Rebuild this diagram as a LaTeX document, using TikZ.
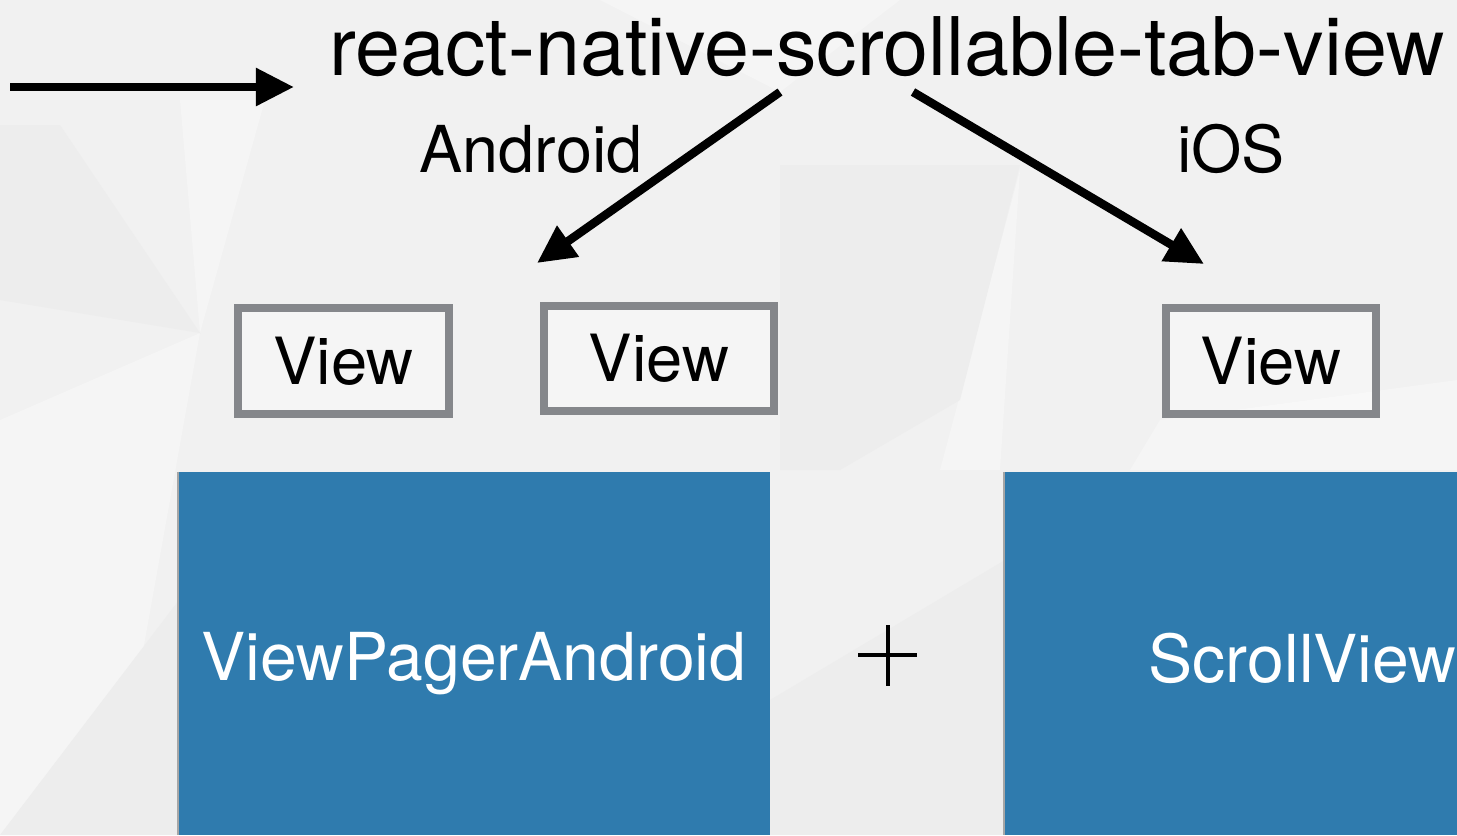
\documentclass[tikz,border=0pt]{standalone}
\usepackage{fontspec}
\setmainfont{TeX Gyre Heros}
\usetikzlibrary{arrows.meta}
\definecolor{bgc}{HTML}{F1F1F1}
\definecolor{facetlight}{HTML}{F5F5F5}
\definecolor{facetdark}{HTML}{EDEDED}
\definecolor{boxgray}{HTML}{85878B}
\definecolor{paneblue}{HTML}{2F7BAE}
\tikzset{
  arrowline/.style={line width=0.085cm, -{Triangle[length=0.38cm,width=0.36cm]}},
  viewbox/.style={draw=boxgray, line width=0.085cm, fill=white, fill opacity=0.3, text opacity=1,
    minimum width=2.11cm, minimum height=1.06cm, inner sep=0pt,
    font=\fontsize{18.5}{22}\selectfont},
  label/.style={inner sep=0pt, font=\fontsize{18.4}{22}\selectfont},
  pane/.style={fill=paneblue, draw=none},
  panetext/.style={inner sep=0pt, text=white, font=\fontsize{18.8}{22}\selectfont},
}
\begin{document}
\begin{tikzpicture}[x=0.01cm, y=-0.01cm]
\useasboundingbox (0,0) rectangle (1457,835);
% background
\fill[bgc] (0,0) rectangle (1457,835);
\fill[facetlight] (200,333) -- (180,100) -- (265,100) -- cycle;
\fill[facetlight] (200,333) -- (0,420) -- (0,835) -- (110,835) -- cycle;
\fill[facetdark] (200,333) -- (0,200) -- (0,300) -- cycle;
\fill[facetdark] (200,333) -- (60,125) -- (0,125) -- (0,200) -- cycle;
\fill[facetlight] (1020,170) -- (1000,470) -- (940,470) -- cycle;
\fill[facetdark] (780,165) -- (1020,165) -- (960,400) -- (840,470) -- (780,470) -- cycle;
\fill[facetlight] (600,0) -- (900,0) -- (780,92) -- cycle;
\fill[facetlight] (1160,420) -- (1457,380) -- (1457,470) -- (1130,470) -- cycle;
\fill[facetdark] (0,835) -- (179,600) -- (179,835) -- cycle;
\fill[facetdark] (770,700) -- (1005,560) -- (1005,835) -- (770,835) -- cycle;

% title and entry arrow
\node[anchor=base, inner sep=0pt, font=\fontsize{23}{27}\selectfont] (title) at (887,75) {react-native-scrollable-tab-view};
\coordinate (inS) at (10,87);
\coordinate (inE) at (294,87);
\draw[arrowline] (inS) -- (inE);

% platform labels
\node[label, anchor=base] (android) at (531,172) {Android};
\node[label, anchor=base] (ios) at (1231,172) {iOS};

% branch arrows
\coordinate (aS) at (780,92);
\coordinate (aE) at (537,263);
\coordinate (bS) at (913,92);
\coordinate (bE) at (1204,264);
\draw[arrowline] (aS) -- (aE);
\draw[arrowline] (bS) -- (bE);

% view boxes
\node[viewbox] (v1) at (343.5,361) {View};
\node[viewbox, minimum width=2.30cm, minimum height=1.05cm] (v2) at (659,358.5) {View};
\node[viewbox, minimum width=2.10cm] (v3) at (1271,361) {View};

% blue panes
\fill[black!35] (177,472) rectangle (179,835);
\fill[black!35] (1003,472) rectangle (1005,835);
\fill[pane] (179,472) rectangle (770,835);
\fill[pane] (1005,472) rectangle (1457,835);
\node[panetext, anchor=base] (vpa) at (474,680) {ViewPagerAndroid};
\node[panetext, anchor=base west] (sv) at (1148,682) {ScrollView};

% plus sign
\coordinate (plusL) at (858,655);
\coordinate (plusR) at (917,655);
\coordinate (plusT) at (888,625);
\coordinate (plusB) at (888,686);
\draw[line width=0.045cm] (plusL) -- (plusR);
\draw[line width=0.045cm] (plusT) -- (plusB);
\end{tikzpicture}
\end{document}
